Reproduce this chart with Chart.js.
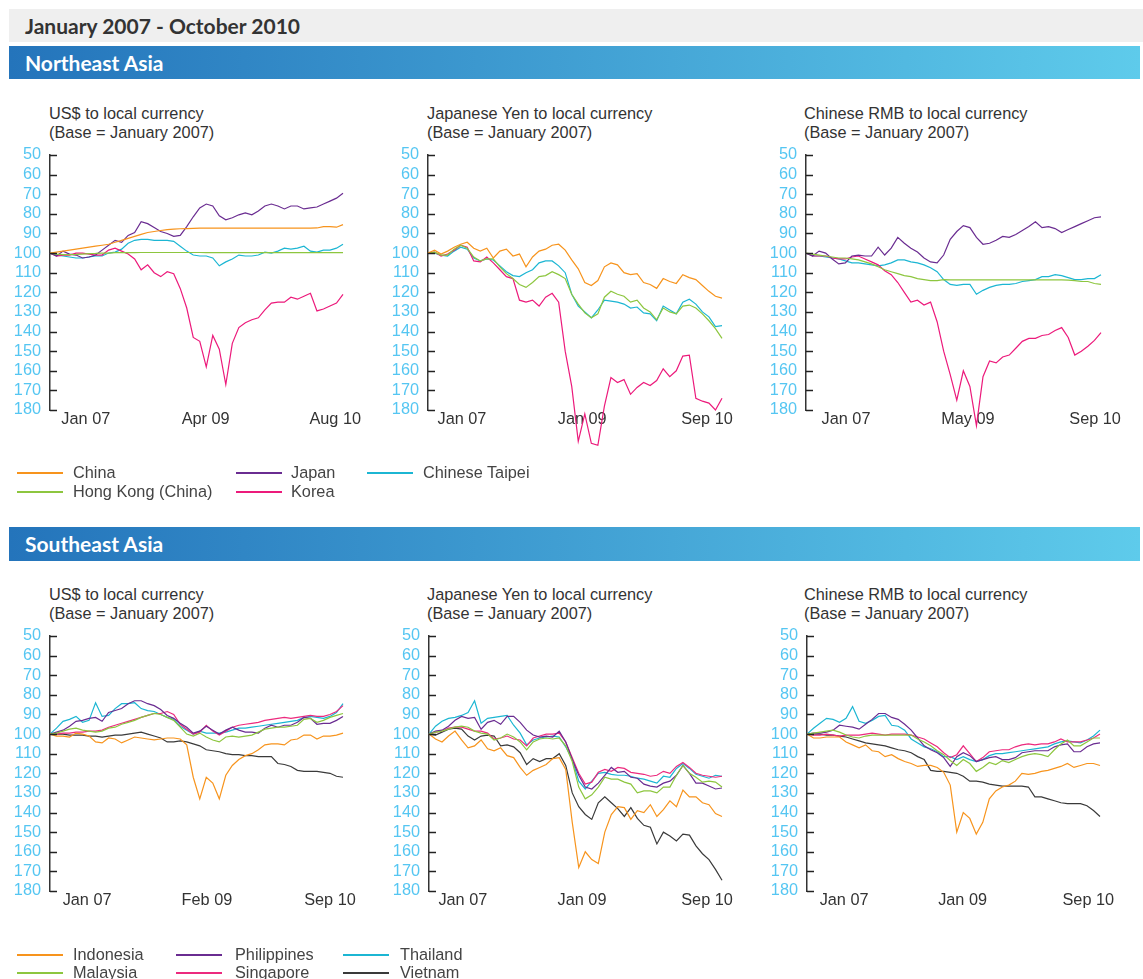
<!DOCTYPE html>
<html>
<head>
<meta charset="utf-8">
<script src="https://cdn.jsdelivr.net/npm/chart.js@4.4.0/dist/chart.umd.min.js"></script>
<style>
  body { margin: 0; width: 1143px; height: 979px; overflow: hidden; background: #fff; position: relative;
         font-family: "Liberation Sans", Arial, sans-serif; }
  .bar { position: absolute; left: 9px; height: 33px; line-height: 33px; font-family: Lato, "Open Sans", sans-serif;
         font-weight: 700; font-size: 21px; padding-left: 16px; box-sizing: border-box; }
  #period { top: 9px; width: 1134px; background: #efefef; color: #333; }
  .region { width: 1131px; color: #fff; background: linear-gradient(to right, #2474bb, #5ecbeb); }
  .sub { position: absolute; font-size: 16.3px; line-height: 19px; color: #333; white-space: nowrap; }
  canvas { position: absolute; }
  .leg { position: absolute; font-size: 16.3px; line-height: 19px; color: #444; white-space: nowrap; }
  .leg span { position: absolute; top: 9px; width: 46px; height: 2px; }
</style>
</head>
<body>
<div id="period" class="bar">January 2007 - October 2010</div>
<div class="bar region" style="top:46px">Northeast Asia</div>
<div class="bar region" style="top:527px;height:34px;line-height:34px">Southeast Asia</div>

<div class="sub" style="left:49px;top:104px">US$ to local currency<br>(Base = January 2007)</div>
<div class="sub" style="left:427px;top:104px">Japanese Yen to local currency<br>(Base = January 2007)</div>
<div class="sub" style="left:804px;top:104px">Chinese RMB to local currency<br>(Base = January 2007)</div>
<div class="sub" style="left:49px;top:585px">US$ to local currency<br>(Base = January 2007)</div>
<div class="sub" style="left:427px;top:585px">Japanese Yen to local currency<br>(Base = January 2007)</div>
<div class="sub" style="left:804px;top:585px">Chinese RMB to local currency<br>(Base = January 2007)</div>

<canvas id="c1" width="390" height="325" style="left:0px;top:145px"></canvas>
<canvas id="c2" width="390" height="325" style="left:378px;top:145px"></canvas>
<canvas id="c3" width="387" height="325" style="left:756px;top:145px"></canvas>
<canvas id="c4" width="390" height="325" style="left:0px;top:626px"></canvas>
<canvas id="c5" width="390" height="325" style="left:379px;top:626px"></canvas>
<canvas id="c6" width="386" height="325" style="left:757px;top:626px"></canvas>

<div id="legNE"></div>
<div id="legSE"></div>

<script>
// monthly points, Jan 07 .. Oct 10
const months = ['Jan 07','Feb 07','Mar 07','Apr 07','May 07','Jun 07','Jul 07','Aug 07','Sep 07','Oct 07','Nov 07','Dec 07',
  'Jan 08','Feb 08','Mar 08','Apr 08','May 08','Jun 08','Jul 08','Aug 08','Sep 08','Oct 08','Nov 08','Dec 08',
  'Jan 09','Feb 09','Mar 09','Apr 09','May 09','Jun 09','Jul 09','Aug 09','Sep 09','Oct 09','Nov 09','Dec 09',
  'Jan 10','Feb 10','Mar 10','Apr 10','May 10','Jun 10','Jul 10','Aug 10','Sep 10','Oct 10'];

// Northeast Asia - US$
const usdChina = [100,99.5,99,98.5,98,97.5,97,96.5,96,95.5, 94.5,93.5,92.5,91.5,90.5,89.5,89,88.5,88,87.8, 87.6,87.5,87.4,87.3,87.3,87.3,87.3,87.3,87.3,87.3, 87.3,87.3,87.3,87.3,87.3,87.3,87.3,87.3,87.3,87.3, 87.3,87.2,86.5,86.5,86.8,85.5];
const usdHK = [100,100.5,100.8,100.8,100.7,100.5,100.3,100.2,100,100, 99.8,99.8,99.8,99.8,99.7,99.7,99.7,99.7,99.7,99.7, 99.7,99.7,99.7,99.7,99.8,99.8,99.8,99.8,99.8,99.8, 99.8,99.8,99.8,99.8,99.8,99.8,99.8,99.8,99.8,99.8, 99.8,99.8,99.8,99.8,99.8,99.8];
const usdJapan = [100,101.5,99,100.5,101,102.5,102,101,98.5,96, 93.5,94.5,91,89.5,84,85,87,89,90,91.5, 91,86.5,81.5,77,75,76,81,83,82,80.5, 79.5,80.5,78.5,76,75,76,77.5,76,76,77.5, 77,76.5,75,73.5,72,69.5];
const usdKorea = [100,101.5,101,101,100,100,100.5,101,101,98.5, 97.5,99,100.5,103,108.5,106,110,112,109.5,110.5, 118,128,143,145,158,142,149,167,146,138, 135.5,134,133,129,125.5,125,125,122.5,123.5,122, 120.5,129.5,128.5,127,125.5,121];
const usdTaipei = [100,101,101.5,102,102.5,102.5,102,101.5,101.5,100, 99.5,98,95,93.5,93,93,93.5,93.5,93.5,94, 96.5,99,101,101.5,101.5,102.5,106.5,104.5,103,101, 101.5,101.5,101,99.5,100,99,97.5,98,97.5,96.5, 99,99.5,98.5,98.5,97.5,95.5];

// Northeast Asia - Japanese Yen
const jpyChina = [100,98.5,100.5,99,97,95.5,94.5,97.5,99,97.5, 102.5,99,98,101.5,100.5,107,102,99,98,96, 95.5,98.5,103.5,108,115,116.5,114,107,105,106, 110,111,110.5,115,116,118,113,114.5,115.5,111, 112.5,113.5,116.5,119.5,122,123];
const jpyHK = [100,99.5,101,101,98,96,97.5,102,104,103, 103,107,110.5,113,116,117.5,115,112,111.5,109.5, 111,113,121,126,130.5,133,131,122.5,119.5,121, 122,125,124,128,130,134,128,130,131,127, 126.5,128,131,134.5,138.5,143.5];
const jpyKorea = [100,99.5,101.5,100.5,98.5,96,97,104,104.5,102, 105,108.5,112,113,124,125,124,127,122.5,120.5, 125,150,168,196,182,197,198,178,163.5,166, 164.5,172,168.5,166,167.5,165,159,163,160,152.5, 152,174,175.5,176.5,180,174];
const jpyTaipei = [100,100,101,101.5,99,97,98,102.5,104,103, 103.5,106.5,109.5,111.5,112,110,108.5,105,104,104, 106.5,110,121,127,130,133,129,124,124.5,125, 126,128,127.5,130.5,131,134.5,127,129,131,125, 123.5,126,130,132.5,137.5,137];

// Northeast Asia - Chinese RMB
const cnyHK = [100,100.5,101,101.5,102,102.5,102.5,103,103.5,104.5, 105.5,107,108.5,109.5,110.5,111.5,112,113,113.5,114, 114,113.5,113.7,113.7,113.7,113.7,113.7,113.7,113.7,113.7, 113.7,113.7,113.7,113.7,113.7,113.7,113.7,113.7,113.7,113.7, 113.8,114,114.5,114.5,115.5,116];
const cnyJapan = [100,101.5,99,100,103,105.5,105,101.5,101,101.5, 101.5,97,101,97.5,92,95,97.5,99.5,102.5,104.5, 105,101,93,89,86,87,92,95.5,95,93.5, 91.5,92,90.5,88.5,86.5,84,87,86.5,87.5,89.5, 88,86.5,85,83.5,82,81.5];
const cnyKorea = [100,101.5,101.5,101.5,102.5,103,103,102,101.5,103, 104.5,106,109,111,115,120,125,124,126.5,125, 135,150,162,175,160,168,188,163,155,156, 153,152,148.5,145,143.5,143.5,142,141.5,139.5,138, 143,152,150,147.5,144.5,140.5];
const cnyTaipei = [100,101.5,101.5,102,102.5,103,104,105,105,105.5, 106,106.5,106,105,103.5,103.5,104.5,105,106,107.5, 109.5,113.5,116,116.5,116,116,121,119,117.5,116.5, 116,116,115.5,114.5,114,113.5,112,112,111,111.5, 112.5,113.5,113.5,113,113,111];

// Southeast Asia - US$
const usdIndonesia = [100,101,101,101.5,99.5,100,101,104,104.5,102, 102.5,104.5,103,101.5,102,102.5,103,102.5,102,102, 102.5,105.5,122,133,122,125,133,121,116,113, 111,110,108,105.5,105,105,105.5,103,102.5,100.5, 100.5,102.5,101,101,100.5,99.5];
const usdMalaysia = [100,99.5,98.5,97.5,97,98,98.5,99,98.5,97, 96.5,95,94,93,91.5,90.5,89.5,90,91.5,93, 96.5,100,101,99.5,101.5,103,104,101.5,101,101.5, 101,100.5,99,97.5,97,96.5,96.5,96,95.5,92.5, 92,94,93,91.5,90.5,89.5];
const usdPhilippines = [100,99,98,96,93.5,93,92,91.5,93.5,89, 88,87,84.5,83,83,84.5,85.5,87.5,90.5,92, 94.5,96.5,99.5,98.5,96,98,100,98,96.5,98, 99,99,99.5,97,95.5,96.5,95.5,95.5,94,91.5, 92,95,94.5,94.5,93,91];
const usdSingapore = [100,100,99.5,99.5,99,99,98.5,98.5,98,96.5, 95.5,94.5,93.5,92.5,91.5,90.5,89.5,89.5,88.5,90, 95,97.5,100,99,95.5,98.5,100.5,98.5,96.5,95.5, 95,94.5,94,93,92.5,92,91.5,92,91.5,91, 90.5,91,91,90,88.5,85.5];
const usdThailand = [100,97,93.5,92.5,91,94,93,84,91,90.5, 87,84.5,84.5,84,87,88,88.5,90,91.5,92.5, 96,98,100,98.5,99.5,99.5,99.5,99,98,97, 97,96.5,96,95.5,95,94.5,94,93.5,93,91.5, 91,91.5,92,91,89,84.5];
const usdVietnam = [100,100,100,100.5,100.5,100.5,101,101,101.5,101, 100.5,100.5,100,99.5,99,100,101,102,104,104, 103.5,104,105,106,108,108.5,109,110,110.5,110.5, 111,111,111.5,111.5,111.5,115,115.5,116.5,118.5,119, 119,119,119.5,120,121.5,122];

// Southeast Asia - Japanese Yen
const jpyIndonesia = [100,102.5,104,101,98.5,103,107,106,103,107.5, 108.5,107,111,112,117,121,118.5,117,115.5,112.5, 112,118,145,168,160,164,166,150,141,137, 137.5,143.5,139,140,136,142,138.5,134,137,128.5, 132,132,135,136,140.5,142];
const jpyMalaysia = [100,99,98.5,97.5,96.5,96,96.5,98.5,99.5,100, 103,102,100,101.5,104,108,104,102.5,102,102.5, 102,106,114,127,133,131,127,122,123,123, 124.5,125.5,130,129,129,130,127,127,121,116, 120,122,124.5,124,124.5,127];
const jpyPhilippines = [100,98.5,98,96,93,91,92,91.5,97.5,94, 93,95,91,91,94,98,100.5,101.5,101,101.5, 98.5,104,113,121,127,128,125,121,117,119.5, 119,122,122.5,125.5,126.5,127,125,124,121,116, 120,125,125,126.5,128,127.5];
const jpySingapore = [100,99,98.5,97,96.5,96.5,97.5,98.5,98.5,99.5, 102.5,102,101,102.5,103,106,102,101,100,100, 99.5,104,112,120,125.5,124.5,119.5,118,119,117, 117.5,119.5,120,120.5,121.5,121,119,120,116.5,114.5, 117,120,121,121.5,122,121.5];
const jpyThailand = [100,96,93.5,92,91.5,90.5,89,83,94.5,92, 91.5,91,90.5,95.5,99.5,105.5,103,102,101.5,101, 101.5,106.5,113,124,128,124,120,119.5,120.5,121, 121,121.5,122.5,123,124,125,121.5,122,117.5,115, 117.5,120.5,121.5,122.5,121,121.5];
const jpyVietnam = [100,100.5,99,97.5,97,97.5,101,103,101,100.5, 101,106,105.5,106.5,109.5,115.5,112.5,114,112.5,112.5, 110,116,130,137,141,143.5,135,132,135,138, 142,137.5,143,146.5,147.5,156,150,152,154.5,151, 151.5,157,161,164,169,174.5];

// Southeast Asia - Chinese RMB
const cnyIndonesia = [100,102,102,101.5,101.5,101.5,104,105.5,107,105.5, 108.5,109,111.5,110.5,112.5,114,115,116.5,116,116, 117,119.5,126,150,140,143,151,145,133,129, 127,126,124,120,120.5,120,119,118.5,117.5,116.5, 115,117,116,115,115,116];
const cnyMalaysia = [100,99.5,99,98.5,98,99,100.5,101.5,102,101, 100.5,100.5,100.5,100.5,100.5,100.5,100.5,102.5,104,106, 108.5,110.5,113.5,116,113,115,119,117,114.5,115.5, 113.5,114.5,113,111.5,110.5,110,110.5,111.5,108,105, 103,106,106,104,102,102];
const cnyPhilippines = [100,99.5,99.5,99,98,95.5,96,96.5,97.5,95, 92.5,89.5,89.5,91.5,92.5,95,98,102,106,108, 109.5,112,116.5,111.5,109.5,111,114,113,112,111.5, 113,113,112,109.5,109,108.5,108.5,108.5,106.5,105.5, 105,109,109,106.5,105,104.5];
const cnySingapore = [100,100.5,100.5,100,100.5,101,100.5,100.5,100.5,100, 99.5,100,100.5,100,100,100,100.5,101.5,102.5,104.5, 106.5,109.5,112,110.5,106,110,114,112,109,108.5, 108,108,106.5,105.5,105,105.5,105,105,104,102.5, 104,104,104,103,102,100];
const cnyThailand = [100,97,94.5,92,92.5,94,92,86,93.5,94.5, 93,91,90.5,95.5,96,98,102.5,104.5,106.5,107.5, 109,111.5,111.5,113,111.5,113,114,113,111,110, 110,109.5,109,108.5,108,107.5,107,106.5,105,104, 103.5,104,104.5,103,101,98];
const cnyVietnam = [100,100,100,100.5,100.5,101,101.5,102.5,103.5,104.5, 105,105.5,106,107,108,108.5,109.5,111.5,113,118.5, 119,119,119.5,120,121.5,124,124,124.5,125.5,126, 126.5,126.5,126.5,126.5,127,132,132,133,134,135, 135.5,135.5,135.5,136.5,139,142];

const neNames = ['China', 'Hong Kong (China)', 'Japan', 'Korea', 'Chinese Taipei'];
const neColors = ['#f7941d', '#8dc63f', '#6a2c91', '#ec1a7b', '#1cb6d3'];
const seNames = ['Indonesia', 'Malaysia', 'Philippines', 'Singapore', 'Thailand', 'Vietnam'];
const seColors = ['#f7941d', '#8dc63f', '#6a2c91', '#ec2a7e', '#1cb6d3', '#3a3a3a'];

// x tick labels and where they sit (in month units)
const ticksUsdNE = ['Jan 07', 'Apr 09', 'Aug 10'];   const tickAtUsdNE = [5.5, 23.9, 43.8];
const ticksJpyNE = ['Jan 07', 'Jan 09', 'Sep 10'];   const tickAtJpyNE = [5.2, 23.6, 42.7];
const ticksCnyNE = ['Jan 07', 'May 09', 'Sep 10'];   const tickAtCnyNE = [6.1, 24.7, 44.1];
const ticksUsdSE = ['Jan 07', 'Feb 09', 'Sep 10'];   const tickAtUsdSE = [5.7, 24.1, 43.0];
const ticksJpySE = ['Jan 07', 'Jan 09', 'Sep 10'];   const tickAtJpySE = [5.2, 23.5, 42.7];
const ticksCnySE = ['Jan 07', 'Jan 09', 'Sep 10'];   const tickAtCnySE = [5.7, 23.9, 43.2];

const font = { family: '"Liberation Sans", Arial, sans-serif', size: 16.3 };

// small tick marks pointing into the plot, like the original
const innerTicks = {
  id: 'innerTicks',
  afterDatasetsDraw(chart) {
    const y = chart.scales.y, ctx = chart.ctx, x0 = chart.chartArea.left;
    ctx.save();
    ctx.strokeStyle = '#222';
    ctx.lineWidth = 1.5;
    for (let v = 50; v <= 180; v += 10) {
      const py = Math.round(y.getPixelForValue(v)) + 0.5;
      ctx.beginPath();
      ctx.moveTo(x0, py);
      ctx.lineTo(x0 + 7, py);
      ctx.stroke();
    }
    ctx.restore();
  }
};

function makeChart(id, series, names, colors, tickText, tickAt, padRight) {
  // a currency is not drawn against itself, so some slots are empty
  const sets = [];
  series.forEach((s, k) => {
    if (!s) return;
    sets.push({ label: names[k], data: s, borderColor: colors[k], borderWidth: 1.2,
                pointRadius: 0, tension: 0, clip: false, fill: false });
  });
  new Chart(document.getElementById(id), {
    type: 'line',
    data: { labels: months, datasets: sets },
    options: {
      responsive: false,
      animation: false,
      events: [],
      layout: { autoPadding: false, padding: { left: 0, top: 10, right: padRight, bottom: 30 } },
      plugins: { legend: { display: false }, tooltip: { enabled: false } },
      scales: {
        x: {
          type: 'category', offset: false,
          grid: { display: false, drawTicks: false }, border: { display: false },
          afterBuildTicks: s => { s.ticks = tickAt.map(v => ({ value: v })); },
          ticks: { autoSkip: false, maxRotation: 0, padding: 0, color: '#333', font: font,
                   callback: (v, i) => tickText[i] },
          afterFit: s => { s.height = 30; s.paddingLeft = 0; s.paddingRight = 0; }
        },
        y: {
          reverse: true, min: 50, max: 180,
          ticks: { stepSize: 10, autoSkip: false, padding: 9, color: '#55c6f2', font: font },
          grid: { drawOnChartArea: false, drawTicks: false },
          border: { color: '#333', width: 1.5 },
          afterFit: s => { s.width = 50; s.paddingTop = 0; s.paddingBottom = 0; }
        }
      }
    },
    plugins: [innerTicks]
  });
}

makeChart('c1', [usdChina, usdHK, usdJapan, usdKorea, usdTaipei], neNames, neColors, ticksUsdNE, tickAtUsdNE, 47);
makeChart('c2', [jpyChina, jpyHK, null, jpyKorea, jpyTaipei], neNames, neColors, ticksJpyNE, tickAtJpyNE, 46);
makeChart('c3', [null, cnyHK, cnyJapan, cnyKorea, cnyTaipei], neNames, neColors, ticksCnyNE, tickAtCnyNE, 42);
makeChart('c4', [usdIndonesia, usdMalaysia, usdPhilippines, usdSingapore, usdThailand, usdVietnam], seNames, seColors, ticksUsdSE, tickAtUsdSE, 47);
makeChart('c5', [jpyIndonesia, jpyMalaysia, jpyPhilippines, jpySingapore, jpyThailand, jpyVietnam], seNames, seColors, ticksJpySE, tickAtJpySE, 47);
makeChart('c6', [cnyIndonesia, cnyMalaysia, cnyPhilippines, cnySingapore, cnyThailand, cnyVietnam], seNames, seColors, ticksCnySE, tickAtCnySE, 43);

// legends: three columns, filled top to bottom
function makeLegend(boxId, names, colors, lineX, textX, rowY) {
  const box = document.getElementById(boxId);
  names.forEach((n, k) => {
    const col = Math.floor(k / 2), row = k % 2;
    const d = document.createElement('div');
    d.className = 'leg';
    d.style.left = lineX[col] + 'px';
    d.style.top = (rowY[row] - 9) + 'px';
    d.innerHTML = '<span style="left:0;background:' + colors[k] + '"></span>' +
      '<b style="font-weight:400;position:absolute;left:' + (textX[col] - lineX[col]) + 'px">' + n + '</b>';
    box.appendChild(d);
  });
}
makeLegend('legNE', neNames, neColors, [17, 236, 367], [73, 291, 423], [472, 491]);
makeLegend('legSE', seNames, seColors, [17, 176, 343], [73, 235, 400], [954, 972]);
</script>
</body>
</html>
